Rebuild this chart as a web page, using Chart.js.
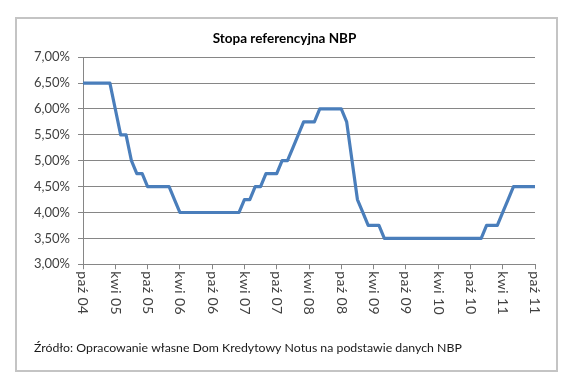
<!DOCTYPE html>
<html lang="pl">
<head>
<meta charset="UTF-8">
<title>Stopa referencyjna NBP</title>
<script src="https://cdn.jsdelivr.net/npm/chart.js"></script>
<style>
    html, body { margin: 0; padding: 0; background: #fff; }
    #wrap { position: relative; width: 583px; height: 378px; }
    #ramka { position: absolute; left: 15px; top: 17px; width: 539px; height: 351px; border: 2px solid #c4c4c4; pointer-events: none; }
    canvas { position: absolute; left: 0; top: 0; }
</style>
</head>
<body>
<div id="wrap">
    <div id="ramka"></div>
    <canvas id="wykres" width="583" height="378"></canvas>
</div>
<script>
// miesiace od paz 2004 do paz 2011
const miesiace = ['sty', 'lut', 'mar', 'kwi', 'maj', 'cze', 'lip', 'sie', 'wrz', 'paź', 'lis', 'gru'];
const tickLabels = ['paź 04', 'kwi 05', 'paź 05', 'kwi 06', 'paź 06', 'kwi 07', 'paź 07', 'kwi 08',
                    'paź 08', 'kwi 09', 'paź 09', 'kwi 10', 'paź 10', 'kwi 11', 'paź 11'];
const stopa = [
    6.50, 6.50, 6.50, 6.50, 6.50, 6.50, 6.00, 5.50, 5.50, 5.00, 4.75, 4.75,
    4.50, 4.50, 4.50, 4.50, 4.50, 4.25, 4.00, 4.00, 4.00, 4.00, 4.00, 4.00,
    4.00, 4.00, 4.00, 4.00, 4.00, 4.00, 4.25, 4.25, 4.50, 4.50, 4.75, 4.75,
    4.75, 5.00, 5.00, 5.25, 5.50, 5.75, 5.75, 5.75, 6.00, 6.00, 6.00, 6.00,
    6.00, 5.75, 5.00, 4.25, 4.00, 3.75, 3.75, 3.75, 3.50, 3.50, 3.50, 3.50,
    3.50, 3.50, 3.50, 3.50, 3.50, 3.50, 3.50, 3.50, 3.50, 3.50, 3.50, 3.50,
    3.50, 3.50, 3.50, 3.75, 3.75, 3.75, 4.00, 4.25, 4.50, 4.50, 4.50, 4.50,
    4.50
];

const kategorie = [];
for (let i = 0; i < stopa.length; i++) {
    const m = (9 + i) % 12;
    const r = 4 + Math.floor((9 + i) / 12);
    kategorie.push(miesiace[m] + ' ' + String(r).padStart(2, '0'));
}

const szary = '#868686';
const czcionka = 'Lato, "DejaVu Sans", sans-serif';

// etykiety osi X obrocone w prawo (jak w Excelu)
const etykietyX = {
    id: 'etykietyX',
    afterDraw(chart) {
        const sx = chart.scales.x;
        const ctx = chart.ctx;
        ctx.save();
        ctx.fillStyle = '#404040';
        ctx.font = '14px ' + czcionka;
        ctx.letterSpacing = '0.4px';
        ctx.textAlign = 'left';
        ctx.textBaseline = 'middle';
        tickLabels.forEach(t => {
            const idx = kategorie.indexOf(t);
            if (idx < 0) return;
            const x = sx.getPixelForValue(idx);
            ctx.save();
            ctx.translate(x, sx.top + 7);
            ctx.rotate(Math.PI / 2);
            ctx.fillText(t, 0, 0);
            ctx.restore();
        });
        ctx.restore();
    }
};

new Chart(document.getElementById('wykres'), {
    type: 'line',
    data: {
        labels: kategorie,
        datasets: [{
            label: 'Stopa referencyjna NBP',
            data: stopa,
            borderColor: '#4a7ebb',
            borderWidth: 3.2,
            borderJoinStyle: 'round',
            pointRadius: 0,
            tension: 0,
            fill: false
        }]
    },
    options: {
        responsive: false,
        animation: false,
        layout: { padding: { left: 34, right: 48, top: 0, bottom: 0 } },
        plugins: {
            legend: { display: false },
            tooltip: { enabled: false },
            title: {
                display: true,
                text: 'Stopa referencyjna NBP',
                color: '#000',
                font: { family: czcionka, size: 13.5, weight: 'bold' },
                padding: { top: 31, bottom: 10 }
            },
            subtitle: {
                display: true,
                position: 'bottom',
                align: 'start',
                text: 'Źródło: Opracowanie własne Dom Kredytowy Notus na podstawie danych NBP',
                color: '#1a1a1a',
                font: { family: czcionka, size: 12.3 },
                padding: { top: 0, bottom: 23 }
            }
        },
        scales: {
            x: {
                offset: false,
                afterFit(s) { s.height = 76; },
                border: { color: szary, width: 1 },
                grid: {
                    drawOnChartArea: false,
                    tickLength: 5,
                    color: c => (tickLabels.includes(kategorie[c.index]) ? szary : 'rgba(0,0,0,0)')
                },
                ticks: { display: false, autoSkip: false }
            },
            y: {
                min: 3,
                max: 7,
                afterFit(s) { s.width = 49; },
                border: { color: szary, width: 1 },
                grid: { color: szary, lineWidth: 1, tickLength: 5 },
                ticks: {
                    stepSize: 0.5,
                    padding: 8,
                    color: '#404040',
                    font: { family: czcionka, size: 13 },
                    callback: v => v.toFixed(2).replace('.', ',') + '%'
                }
            }
        }
    },
    plugins: [etykietyX]
});
</script>
</body>
</html>
